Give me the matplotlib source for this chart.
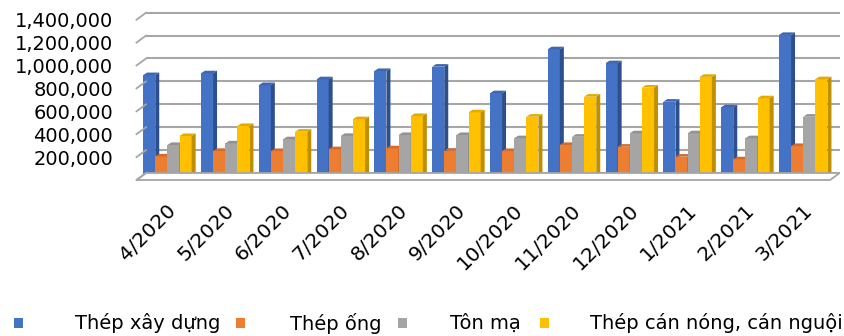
import matplotlib
matplotlib.use("Agg")
import matplotlib.pyplot as plt
from matplotlib.patches import Polygon, Rectangle
from matplotlib.transforms import offset_copy

# ---- data -------------------------------------------------------------
months = ["4/2020", "5/2020", "6/2020", "7/2020", "8/2020", "9/2020",
          "10/2020", "11/2020", "12/2020", "1/2021", "2/2021", "3/2021"]

series_names = ["Thép xây dựng", "Thép ống", "Tôn mạ", "Thép cán nóng, cán nguội"]

thep_xay_dung = [892000, 908000, 805000, 856000, 928000, 966000,
                 734000, 1118000, 996000, 660000, 611000, 1243000]
thep_ong = [182000, 230000, 229000, 245000, 253000, 232000,
            229000, 282000, 267000, 180000, 157000, 273000]
ton_ma = [282000, 296000, 332000, 361000, 369000, 369000,
          341000, 354000, 384000, 384000, 341000, 529000]
thep_can = [360000, 448000, 398000, 507000, 535000, 567000,
            529000, 704000, 783000, 877000, 690000, 856000]

y_ticks = [200000, 400000, 600000, 800000, 1000000, 1200000, 1400000]

series = [thep_xay_dung, thep_ong, ton_ma, thep_can]
front_colors = ["#4472C4", "#ED7D31", "#A5A5A5", "#FFC000"]
side_colors = ["#2D4F8C", "#B1591F", "#7B7B7B", "#BF8F00"]
top_colors = ["#3D67B2", "#D46B28", "#929292", "#E3AB00"]

# ---- figure -----------------------------------------------------------
W, H = 844, 336
fig = plt.figure(figsize=(W / 100, H / 100), dpi=100)
fig.patch.set_facecolor("white")

ax_l, ax_r = 140.5, 834.1          # bar plane, px
ax_zero, ax_top = 177.3, 17.0      # bar plane, px from top
ax = fig.add_axes([ax_l / W, 1 - ax_zero / H, (ax_r - ax_l) / W, (ax_zero - ax_top) / H])
ymax = 1400000
n = len(months)
ax.set_xlim(0, n)
ax.set_ylim(0, ymax)
ax.axis("off")

px_x = (ax_r - ax_l) / n               # px per category
px_y = (ax_zero - ax_top) / ymax       # px per unit value

# planes of the 3D box, as offsets (dots) from the bar plane
back = offset_copy(ax.transData, fig=fig, x=5.5, y=4.3, units="dots")
front = offset_copy(ax.transData, fig=fig, x=-4.0, y=-2.7, units="dots")

grid_c = "#A6A6A6"

# floor
floor_pts_front = [(0, 0), (n, 0)]
fl = fig.transFigure.inverted()
pts = [front.transform(p) for p in floor_pts_front] + \
      [back.transform(p) for p in reversed(floor_pts_front)]
pts = [fl.transform(p) for p in pts]
fig.add_artist(Polygon(pts, closed=True, facecolor="white", edgecolor=grid_c,
                       lw=1.3, zorder=1))

# back wall gridlines and side-wall diagonals
for v in [0] + y_ticks:
    ax.plot([0, n], [v, v], color=grid_c, lw=1.5, transform=back, zorder=1,
            clip_on=False, solid_capstyle="butt")
    a = fl.transform(front.transform((0, v)))
    b = fl.transform(back.transform((0, v)))
    fig.add_artist(plt.Line2D([a[0], b[0]], [a[1], b[1]], color=grid_c, lw=1.3,
                              zorder=1))

# y tick labels on the front plane
lab_tr = offset_copy(ax.transData, fig=fig, x=-27.5, y=-4.7, units="dots")
for v in y_ticks:
    ax.text(0, v, f"{v:,}", transform=lab_tr, ha="right", va="center",
            fontsize=14, color="#000000", clip_on=False)

# 3D columns
bw = 0.21
shift = -0.035
ddx = 4.0 / px_x
ddy = 2.6 / px_y
for i in range(n):
    for k, vals in enumerate(series):
        v = vals[i]
        x0 = i + 0.5 + shift + (k - 2) * bw
        x1 = x0 + bw
        z = 3 + i * 0.01 + k * 0.001
        ax.add_patch(Rectangle((x0, 0), bw, v, facecolor=front_colors[k],
                               edgecolor="none", zorder=z, clip_on=False))
        ax.add_patch(Polygon([(x1, 0), (x1, v), (x1 + ddx, v + ddy), (x1 + ddx, ddy)],
                             closed=True, facecolor=side_colors[k], edgecolor="none",
                             zorder=z, clip_on=False))
        ax.add_patch(Polygon([(x0, v), (x1, v), (x1 + ddx, v + ddy), (x0 + ddx, v + ddy)],
                             closed=True, facecolor=top_colors[k], edgecolor="none",
                             zorder=z, clip_on=False))

# category labels
xl_tr = offset_copy(ax.transData, fig=fig, x=0, y=-23.0, units="dots")
for i, m in enumerate(months):
    ax.text(i + 0.45, 0, m, transform=xl_tr, rotation=45, rotation_mode="anchor",
            ha="right", va="top", fontsize=14.5, color="#000000", clip_on=False)

# legend
leg_y = 1 - 323 / H
sq_x = [14, 236, 398, 540]
txt_x = [75, 290, 450, 590]
for k, name in enumerate(series_names):
    fig.add_artist(Rectangle((sq_x[k] / W, leg_y - 5 / H), 9 / W, 10 / H,
                             facecolor=front_colors[k], edgecolor="none",
                             transform=fig.transFigure))
    fig.text(txt_x[k] / W, leg_y, name, ha="left", va="center", fontsize=14,
             color="#000000")

fig.savefig("out.png", dpi=100, facecolor="white")
